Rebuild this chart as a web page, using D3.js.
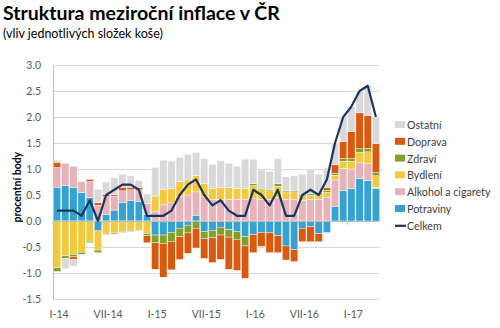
<!DOCTYPE html>
<html>
<head>
<meta charset="utf-8">
<script src="https://cdn.jsdelivr.net/npm/d3@7"></script>
<style>
  body { margin: 0; background: #fff; }
  svg { display: block; font-family: Lato, "Open Sans", sans-serif; }
</style>
</head>
<body>
<svg id="chart" width="500" height="328"></svg>
<script>
// mesice I-14 .. IV-17
var months = ["I-14","II-14","III-14","IV-14","V-14","VI-14","VII-14","VIII-14","IX-14","X-14","XI-14","XII-14",
              "I-15","II-15","III-15","IV-15","V-15","VI-15","VII-15","VIII-15","IX-15","X-15","XI-15","XII-15",
              "I-16","II-16","III-16","IV-16","V-16","VI-16","VII-16","VIII-16","IX-16","X-16","XI-16","XII-16",
              "I-17","II-17","III-17","IV-17"];
var tickLabels = ["I-14","VII-14","I-15","VII-15","I-16","VII-16","I-17"];

var potraviny = [0.65,0.68,0.64,0.55,0.45,-0.19,0.13,0.21,0.36,0.40,0.38,0.12,
                 -0.27,-0.27,-0.22,-0.14,-0.08,0.10,-0.20,-0.18,-0.12,-0.17,-0.20,-0.30,
                 -0.26,-0.22,-0.22,-0.28,-0.48,-0.55,-0.14,-0.11,-0.24,-0.22,0.28,0.58,
                 0.62,0.82,0.78,0.63];
var alkohol   = [0.38,0.43,0.41,0.21,0.31,0.30,0.34,0.27,0.22,0.20,0.22,0.22,
                 0.18,0.31,0.35,0.47,0.50,0.46,0.47,0.42,0.42,0.42,0.42,0.42,
                 0.44,0.42,0.42,0.45,0.42,0.42,0.40,0.42,0.42,0.45,0.51,0.43,
                 0.38,0.30,0.32,0.02];
var bydleni   = [-0.90,-0.67,-0.64,-0.60,-0.39,-0.37,-0.24,-0.23,-0.20,-0.18,-0.16,-0.24,
                 0.30,0.29,0.27,0.29,0.29,0.32,0.25,0.21,0.23,0.22,0.20,0.20,
                 0.24,0.18,0.16,0.22,0.14,0.14,0.07,0.08,0.08,0.10,0.09,0.14,
                 0.15,0.20,0.23,0.22];
var zdravi    = [-0.07,-0.05,-0.05,-0.04,-0.03,-0.05,-0.02,-0.02,-0.02,-0.02,-0.02,-0.04,
                 -0.15,-0.16,-0.17,-0.16,-0.15,-0.14,-0.14,-0.14,-0.15,-0.14,-0.15,-0.18,
                 0.04,0.03,0.03,0.05,0.03,0.03,0.03,0.03,0.04,0.04,0.04,0.05,
                 0.05,0.07,0.07,0.06];
var doprava   = [0.10,0.00,-0.05,0.00,0.04,0.05,0.04,0.03,0.07,0.05,0.05,-0.14,
                 -0.51,-0.65,-0.55,-0.44,-0.39,-0.38,-0.38,-0.48,-0.47,-0.62,-0.60,-0.62,
                 -0.35,-0.27,-0.39,-0.33,-0.27,-0.23,-0.26,-0.29,-0.16,0.05,0.16,0.33,
                 0.52,0.69,0.63,0.56];
var ostatni   = [0.04,-0.20,-0.13,-0.02,0.00,0.26,0.24,0.32,0.25,0.22,0.13,0.18,
                 0.55,0.57,0.53,0.46,0.49,0.44,0.48,0.46,0.51,0.47,0.43,0.57,
                 0.47,0.35,0.34,0.48,0.26,0.28,0.40,0.47,0.36,0.38,0.42,0.47,
                 0.48,0.42,0.57,0.51];
var celkem    = [0.2,0.2,0.2,0.1,0.4,0.0,0.5,0.6,0.7,0.7,0.6,0.1,
                 0.1,0.1,0.2,0.5,0.7,0.8,0.5,0.3,0.4,0.2,0.1,0.1,
                 0.6,0.5,0.3,0.6,0.1,0.1,0.5,0.6,0.5,0.8,1.5,2.0,
                 2.2,2.5,2.6,2.0];

var keys   = ["potraviny","alkohol","bydleni","zdravi","doprava","ostatni"];
var names  = {potraviny:"Potraviny", alkohol:"Alkohol a cigarety", bydleni:"Bydlení",
              zdravi:"Zdraví", doprava:"Doprava", ostatni:"Ostatní"};
var colors = {potraviny:"#35a2d2", alkohol:"#e8b3b8", bydleni:"#f2c93f",
              zdravi:"#80a128", doprava:"#d95a0f", ostatni:"#d9d9d9"};
var lineColor = "#1c3560";

var data = months.map(function(m, i) {
  return {month: m, potraviny: potraviny[i], alkohol: alkohol[i], bydleni: bydleni[i],
          zdravi: zdravi[i], doprava: doprava[i], ostatni: ostatni[i], celkem: celkem[i]};
});

var svg = d3.select("#chart");
var plotL = 53, plotR = 380, plotT = 65, plotB = 299;

var x = d3.scaleBand().domain(months).range([plotL, plotR]).paddingInner(0.1).paddingOuter(0.05);
var y = d3.scaleLinear().domain([-1.5, 3]).range([plotB, plotT]);

// titulek
svg.append("text").attr("x", 3).attr("y", 20)
  .style("font-size", "19.5px").style("font-weight", "bold").attr("fill", "#000")
  .text("Struktura meziroční inflace v ČR");
svg.append("text").attr("x", 3).attr("y", 38)
  .style("font-size", "12.5px").attr("fill", "#000")
  .text("(vliv jednotlivých složek koše)");

// mrizka
var yTicks = d3.range(-1.5, 3.01, 0.5);
svg.append("g").selectAll("line").data(yTicks.filter(function(d) { return Math.abs(d) > 1e-9; }))
  .enter().append("line")
  .attr("x1", plotL).attr("x2", plotR)
  .attr("y1", function(d) { return Math.round(y(d)) + 0.5; })
  .attr("y2", function(d) { return Math.round(y(d)) + 0.5; })
  .attr("stroke", "#d9d9d9").attr("stroke-width", 1);

// osa y
var yAxis = svg.append("g").attr("transform", "translate(" + (plotL - 9) + ",0)")
  .call(d3.axisLeft(y).tickValues(yTicks).tickSize(0).tickFormat(function(d) { return d.toFixed(1); }));
yAxis.select(".domain").remove();
yAxis.selectAll("text").style("font-size", "10.5px").style("font-family", "Lato, sans-serif").attr("fill", "#595959");

svg.append("text")
  .attr("transform", "translate(21," + y(0.65) + ") rotate(-90)")
  .attr("text-anchor", "middle")
  .style("font-size", "10.5px").style("font-weight", "bold")
  .text("procentní body");

// sloupce
var series = d3.stack().keys(keys).offset(d3.stackOffsetDiverging)(data);

svg.append("g").selectAll("g").data(series).enter().append("g")
  .attr("fill", function(d) { return colors[d.key]; })
  .selectAll("rect").data(function(d) { return d; }).enter().append("rect")
  .attr("x", function(d) { return x(d.data.month); })
  .attr("width", x.bandwidth())
  .attr("y", function(d) { return y(Math.max(d[0], d[1])); })
  .attr("height", function(d) { return Math.abs(y(d[0]) - y(d[1])); })
  .attr("stroke", "#fff").attr("stroke-width", 0.4);

// osy
svg.append("line").attr("x1", plotL + 0.5).attr("x2", plotL + 0.5).attr("y1", plotT).attr("y2", plotB)
  .attr("stroke", "#bfbfbf");
svg.append("line").attr("x1", plotL).attr("x2", plotR)
  .attr("y1", Math.round(y(0)) + 0.5).attr("y2", Math.round(y(0)) + 0.5)
  .attr("stroke", "#bfbfbf");

var step = x.step();
svg.append("g").selectAll("line").data(d3.range(0, months.length + 1, 6)).enter().append("line")
  .attr("x1", function(i) { return x(months[0]) - x.paddingInner() * step / 2 + i * step; })
  .attr("x2", function(i) { return x(months[0]) - x.paddingInner() * step / 2 + i * step; })
  .attr("y1", y(0)).attr("y2", y(0) + 4)
  .attr("stroke", "#bfbfbf");

svg.append("g").selectAll("text").data(tickLabels).enter().append("text")
  .attr("x", function(d) { return x(d) + x.bandwidth() / 2 + 2; })
  .attr("y", 318)
  .attr("text-anchor", "middle")
  .style("font-size", "10.5px").attr("fill", "#595959")
  .text(function(d) { return d; });

// celkem
var line = d3.line()
  .x(function(d) { return x(d.month) + x.bandwidth() / 2; })
  .y(function(d) { return y(d.celkem); });
svg.append("path").datum(data)
  .attr("d", line).attr("fill", "none")
  .attr("stroke", lineColor).attr("stroke-width", 2.2)
  .attr("stroke-linejoin", "round");

// legenda
var legendKeys = keys.slice().reverse();
var lg = svg.append("g");
legendKeys.forEach(function(k, i) {
  var ly = 125 + i * 16.8;
  lg.append("rect").attr("x", 395).attr("y", ly - 4).attr("width", 10).attr("height", 7)
    .attr("fill", colors[k]);
  lg.append("text").attr("x", 407).attr("y", ly + 4)
    .style("font-size", "10.7px").attr("fill", "#404040").text(names[k]);
});
var cy = 125 + 6 * 16.8;
lg.append("line").attr("x1", 395).attr("x2", 406).attr("y1", cy).attr("y2", cy)
  .attr("stroke", lineColor).attr("stroke-width", 2.2);
lg.append("text").attr("x", 407).attr("y", cy + 4)
  .style("font-size", "10.7px").attr("fill", "#404040").text("Celkem");
</script>
</body>
</html>
